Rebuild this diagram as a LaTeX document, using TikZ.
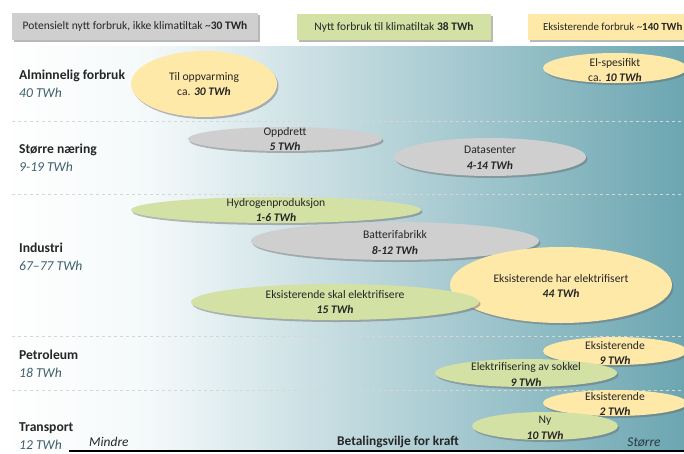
\documentclass[tikz,border=0pt]{standalone}
\usepackage{fontspec}
\setmainfont{Carlito}
\usetikzlibrary{shapes.geometric,shadows}
\definecolor{yel}{HTML}{FFE9A8}
\definecolor{grn}{HTML}{D4E1A5}
\definecolor{gry}{HTML}{CFCFCF}
\definecolor{tealR}{HTML}{6CA6B1}
\definecolor{tealM}{HTML}{C6DEE2}
\definecolor{tealL}{HTML}{F4F9FA}
\definecolor{tlab}{HTML}{3E5F6B}
\definecolor{txtc}{HTML}{262626}
\definecolor{sepc}{HTML}{D6D6D6}
\newcommand\bi[1]{\textbf{\textit{#1}}}
\begin{document}
\begin{tikzpicture}[x=1pt,y=-1pt,
  ell/.style={ellipse, inner sep=0pt, draw=none,
    drop shadow={shadow xshift=1.5pt, shadow yshift=-2pt, opacity=.45, fill=black!60}},
  etxt/.style={align=center, inner sep=0pt, text=txtc, font=\fontsize{11.6}{15.8}\selectfont},
  lab/.style={anchor=west, align=left, inner sep=0pt, text=txtc, font=\fontsize{13.6}{18}\selectfont},
  legbox/.style={draw=none, inner sep=0pt, text=txtc, font=\fontsize{11.5}{13}\selectfont,
    drop shadow={shadow xshift=2pt, shadow yshift=-2pt, opacity=.5, fill=black!55}},
  sepline/.style={draw=sepc, dashed, line width=0.8pt},
  axtxt/.style={inner sep=0pt, text=txtc, font=\fontsize{13.4}{15}\selectfont}]
\useasboundingbox (0,0) rectangle (684,453);
\fill[white] (0,0) rectangle (684,453);
% background gradient
\shade[left color=white, right color=tealL] (0,46) rectangle (150,450);
\shade[left color=tealL, middle color=tealM, right color=tealR] (150,46) rectangle (684,450);
% legend
\node[legbox, fill=gry, minimum width=246pt, minimum height=27pt] (lg1) at (135,26.5)
  {Potensielt nytt forbruk, ikke klimatiltak \textasciitilde\textbf{30 TWh}};
\node[legbox, fill=grn, minimum width=194pt, minimum height=26pt] (lg2) at (394,27)
  {Nytt forbruk til klimatiltak \textbf{38 TWh}};
\node[legbox, fill=yel, minimum width=164pt, minimum height=26pt, anchor=west] (lg3) at (528,27)
  {\hspace{5pt}\fontsize{10.9}{13}\selectfont Eksisterende forbruk \textasciitilde\textbf{140 TWh}\hfill};
% separators
\coordinate (s1a) at (12,121); \coordinate (s1b) at (684,121);
\coordinate (s2a) at (12,194); \coordinate (s2b) at (684,194);
\coordinate (s3a) at (12,336); \coordinate (s3b) at (684,336);
\coordinate (s4a) at (12,390); \coordinate (s4b) at (684,390);
\draw[sepline] (s1a) -- (s1b);
\draw[sepline] (s2a) -- (s2b);
\draw[sepline] (s3a) -- (s3b);
\draw[sepline] (s4a) -- (s4b);
% axis
\coordinate (axa) at (69,450.5); \coordinate (axb) at (684,450.5);
\draw[line width=2pt, black] (axa) -- (axb);
% ellipses
\node[ell, fill=yel, minimum width=146pt, minimum height=66pt] (oppv) at (204,84) {};
\node[ell, fill=yel, minimum width=144pt, minimum height=30pt] (elsp) at (615,68) {};
\node[ell, fill=gry, minimum width=194pt, minimum height=24pt] (oppd) at (285,139) {};
\node[ell, fill=gry, minimum width=192pt, minimum height=38pt] (data) at (490,157) {};
\node[ell, fill=grn, minimum width=290pt, minimum height=26pt] (hydr) at (276,210) {};
\node[ell, fill=gry, minimum width=288pt, minimum height=38pt] (batt) at (395,241) {};
\node[ell, fill=yel, minimum width=222pt, minimum height=76pt] (hare) at (561,285) {};
\node[ell, fill=grn, minimum width=288pt, minimum height=36pt] (skal) at (335,302) {};
\node[ell, fill=yel, minimum width=144pt, minimum height=28pt] (pet9) at (615,351) {};
\node[ell, fill=grn, minimum width=182pt, minimum height=28pt] (sokk) at (526,373) {};
\node[ell, fill=yel, minimum width=144pt, minimum height=26pt] (tr2) at (615,403) {};
\node[ell, fill=grn, minimum width=146pt, minimum height=28pt] (ny) at (545,426) {};
% ellipse texts
\node[etxt] (toppv) at (oppv.center) {Til oppvarming\\ca. \bi{30 TWh}};
\node[etxt] (telsp) at ([yshift=-2pt]elsp.center) {El-spesifikt\\ca. \bi{10 TWh}};
\node[etxt] (toppd) at (oppd.center) {Oppdrett\\\bi{5 TWh}};
\node[etxt] (tdata) at ([yshift=-1pt]data.center) {Datasenter\\\bi{4-14 TWh}};
\node[etxt] (thydr) at (hydr.center) {Hydrogenproduksjon\\\bi{1-6 TWh}};
\node[etxt] (tbatt) at ([yshift=-1.5pt]batt.center) {Batterifabrikk\\\bi{8-12 TWh}};
\node[etxt] (thare) at ([yshift=-1pt]hare.center) {Eksisterende har elektrifisert\\\bi{44 TWh}};
\node[etxt] (tskal) at (skal.center) {Eksisterende skal elektrifisere\\\bi{15 TWh}};
\node[etxt] (tpet9) at ([yshift=-2pt]pet9.center) {Eksisterende\\\bi{9 TWh}};
\node[etxt] (tsokk) at ([yshift=-1.5pt]sokk.center) {Elektrifisering av sokkel\\\bi{9 TWh}};
\node[etxt] (ttr2) at ([yshift=-1pt]tr2.center) {Eksisterende\\\bi{2 TWh}};
\node[etxt] (tny) at ([yshift=-1.5pt]ny.center) {Ny\\\bi{10 TWh}};
% row labels
\node[lab] (l1) at (19,84) {\textbf{Alminnelig forbruk}\\{\color{tlab}\itshape 40 TWh}};
\node[lab] (l2) at (19,158) {\textbf{Større næring}\\{\color{tlab}\itshape 9-19 TWh}};
\node[lab] (l3) at (19,257) {\textbf{Industri}\\{\color{tlab}\itshape 67–77 TWh}};
\node[lab] (l4) at (19,364) {\textbf{Petroleum}\\{\color{tlab}\itshape 18 TWh}};
\node[lab] (l5) at (19,436) {\textbf{Transport}\\{\color{tlab}\itshape 12 TWh}};
% axis labels
\node[axtxt, anchor=west] (mindre) at (89,442) {\itshape Mindre};
\node[axtxt] (betal) at (398,442) {\bfseries Betalingsvilje for kraft};
\node[axtxt, text=tlab!60!black] (storre) at (644,442) {\itshape Større};
\end{tikzpicture}
\end{document}
